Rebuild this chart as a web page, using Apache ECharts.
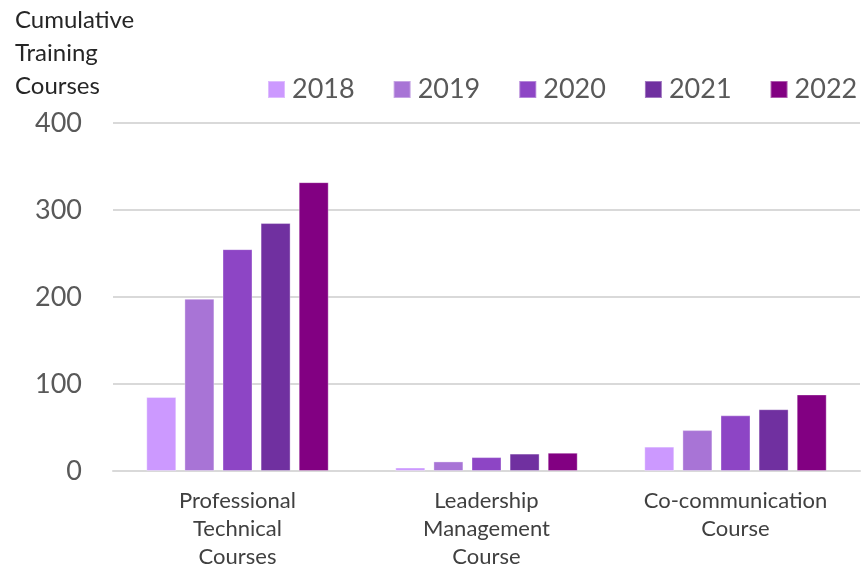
<!DOCTYPE html>
<html>
<head>
<meta charset="utf-8">
<script src="https://cdn.jsdelivr.net/npm/echarts@6/dist/echarts.min.js"></script>
<style>
  html, body { margin: 0; padding: 0; background: #ffffff; overflow: hidden; }
  #chart { width: 862px; height: 571px; }
</style>
</head>
<body>
<div id="chart"></div>
<script>
// Course categories along the x axis
const categories = [
  'Professional\nTechnical\nCourses',
  'Leadership\nManagement\nCourse',
  'Co-communication\nCourse'
];

// Cumulative training courses per year, one value per category
const years = ['2018', '2019', '2020', '2021', '2022'];
const values2018 = [85, 4, 28];
const values2019 = [198, 11, 47];
const values2020 = [255, 16, 64];
const values2021 = [285, 20, 71];
const values2022 = [332, 21, 88];

const yearValues = [values2018, values2019, values2020, values2021, values2022];
const yearColors = ['#CC99FF', '#A874D6', '#8D45C5', '#7030A0', '#820082'];

const FONT = 'Lato, "Noto Sans", sans-serif';

const chart = echarts.init(document.getElementById('chart'), null, { renderer: 'canvas' });

chart.setOption({
  animation: false,
  backgroundColor: '#ffffff',
  title: {
    text: 'Cumulative\nTraining\nCourses',
    left: 15,
    top: 4,
    padding: 0,
    textStyle: {
      fontFamily: FONT,
      fontSize: 24,
      fontWeight: 'normal',
      color: '#262626',
      lineHeight: 33
    }
  },
  legend: {
    data: years,
    left: 267,
    top: 76,
    padding: 0,
    width: 620,
    itemWidth: 17,
    itemHeight: 17,
    itemGap: 38,
    icon: 'rect',
    textStyle: {
      fontFamily: FONT,
      fontSize: 27,
      color: '#595959',
      padding: [0, 0, 0, 2]
    }
  },
  grid: {
    left: 113,
    width: 747,
    top: 123,
    height: 355,
    containLabel: false
  },
  xAxis: {
    type: 'category',
    data: categories,
    axisTick: { show: false },
    axisLine: { lineStyle: { color: '#d9d9d9', width: 2 } },
    axisLabel: {
      interval: 0,
      margin: 16,
      fontFamily: FONT,
      fontSize: 22,
      lineHeight: 28,
      color: '#404040',
      align: 'center'
    }
  },
  yAxis: {
    type: 'value',
    min: 0,
    max: 400,
    interval: 100,
    axisLine: { show: false },
    axisTick: { show: false },
    splitLine: { lineStyle: { color: '#d9d9d9', width: 2 } },
    axisLabel: {
      margin: 31,
      fontFamily: FONT,
      fontSize: 27,
      color: '#595959'
    }
  },
  series: years.map((y, i) => ({
    name: y,
    type: 'bar',
    data: yearValues[i],
    barWidth: 30,
    barGap: '27%',
    itemStyle: {
      color: yearColors[i],
      borderColor: 'rgba(255,255,255,0.35)',
      borderWidth: 1
    }
  }))
});
</script>
</body>
</html>
